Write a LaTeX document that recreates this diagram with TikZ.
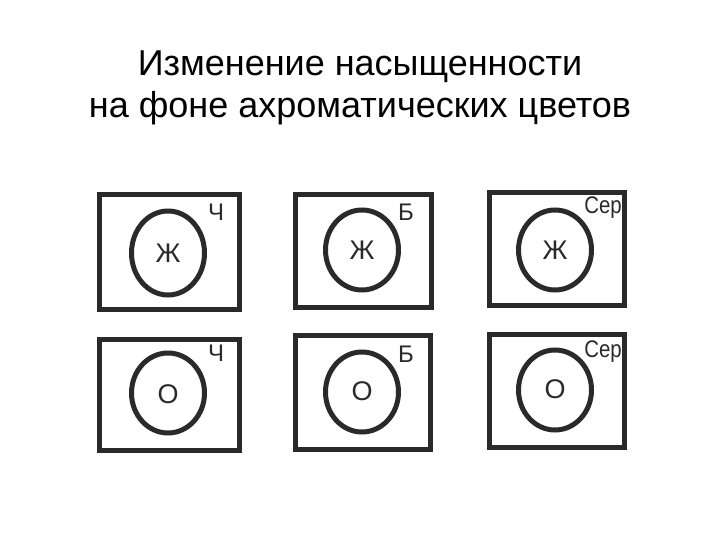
\documentclass[tikz,border=0pt]{standalone}
\usepackage{fontspec}
\setmainfont{Liberation Sans}
\definecolor{ink}{HTML}{2A2A2A}
\tikzset{
  frame/.style={draw=ink, line width=5pt},
  ring/.style={draw=ink, line width=5pt},
  letter/.style={text=ink, font=\fontsize{27}{27}\selectfont, inner sep=0pt},
  tag/.style={text=ink, font=\fontsize{24}{24}\selectfont, inner sep=0pt}
}
\begin{document}
\begin{tikzpicture}[x=1pt, y=-1pt]
     \useasboundingbox (0,0) rectangle (720,540);
     \node[align=center, font=\fontsize{36}{42}\selectfont, text=black] (title) at (360,88)
          {Изменение насыщенности\\на фоне ахроматических цветов};
     % upper row
     \draw[frame] (99.5,194.5) rectangle (239.5,309.5);
     \draw[frame] (295.5,194.5) rectangle (431.5,307.5);
     \draw[frame] (489.5,192.5) rectangle (624.5,305.5);
     \draw[ring] (168,253) ellipse (36.5 and 42);
     \draw[ring] (362,250) ellipse (36.5 and 40);
     \draw[ring] (555,250) ellipse (36.5 and 40);
     \node[letter] (zh1) at (168,253) {Ж};
     \node[letter] (zh2) at (362,250) {Ж};
     \node[letter] (zh3) at (555,250) {Ж};
     \node[tag] (blk1) at (216,212) {Ч};
     \node[tag] (wht1) at (406,212) {Б};
     \node[tag, xscale=0.85] (gry1) at (603,208) {Сер};
     % lower row
     \draw[frame] (99.5,339.5) rectangle (239.5,450.5);
     \draw[frame] (295.5,335.5) rectangle (430.5,449.5);
     \draw[frame] (489.5,334.5) rectangle (624.5,447.5);
     \draw[ring] (168,393) ellipse (36.5 and 40);
     \draw[ring] (362,392) ellipse (36.5 and 40);
     \draw[ring] (555,390) ellipse (36.5 and 40);
     \node[letter] (or1) at (168,394) {О};
     \node[letter] (or2) at (362,391) {О};
     \node[letter] (or3) at (555,389) {О};
     \node[tag] (blk2) at (216,353) {Ч};
     \node[tag] (wht2) at (406,354) {Б};
     \node[tag, xscale=0.85] (gry2) at (603,352) {Сер};
\end{tikzpicture}
\end{document}
